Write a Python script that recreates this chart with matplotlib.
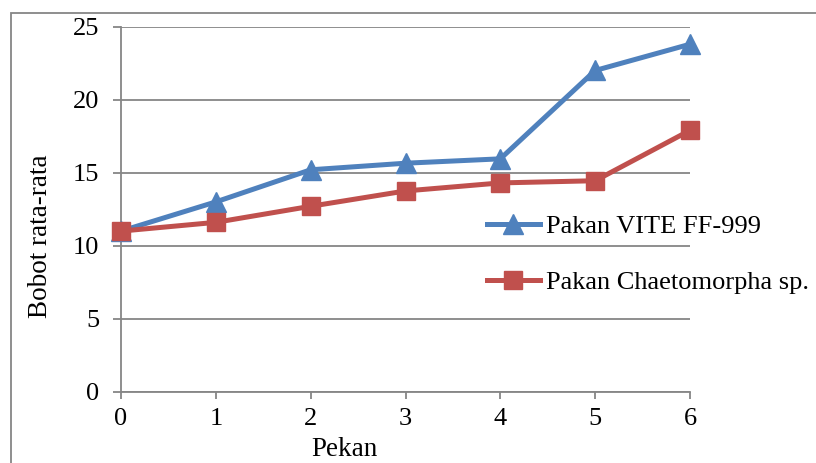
import matplotlib
matplotlib.use("Agg")
import matplotlib.pyplot as plt
from matplotlib.patches import Rectangle

plt.rcParams['font.family'] = ['Liberation Serif', 'DejaVu Serif']

pekan = [0, 1, 2, 3, 4, 5, 6]
vite = [11.0, 13.0, 15.2, 15.65, 15.95, 22.0, 23.8]
chaeto = [11.0, 11.6, 12.7, 13.75, 14.3, 14.45, 17.9]
labels = ["Pakan VITE FF-999", "Pakan Chaetomorpha sp."]

W, H = 816, 463
fig = plt.figure(figsize=(W / 100, H / 100), dpi=100)
ax = fig.add_axes([121 / W, 1 - 391.7 / H, (690 - 121) / W, (391.7 - 26.7) / H])

gray = '#868686'
fs = 19

ax.plot(pekan, vite, color='#4F81BD', lw=3.6, marker='^', ms=14,
        label=labels[0], zorder=3, clip_on=False)
ax.plot(pekan, chaeto, color='#C0504D', lw=3.6, marker='s', ms=13,
        label=labels[1], zorder=3, clip_on=False)

ax.set_xlim(0, 6)
ax.set_ylim(0, 25)
ax.set_xticks(pekan)
ax.set_yticks([0, 5, 10, 15, 20, 25])
ax.grid(axis='y', color=gray, lw=1.3)
ax.set_axisbelow(True)
for s in ['top', 'right']:
    ax.spines[s].set_visible(False)
for s in ['left', 'bottom']:
    ax.spines[s].set_color(gray)
    ax.spines[s].set_linewidth(1.3)
ax.tick_params(axis='y', length=5.8, width=1.3, color=gray, pad=10, labelsize=fs)
ax.tick_params(axis='x', length=5, width=1.3, color=gray, pad=6.5, labelsize=fs)

fig.text(41 / W, 1 - 236 / H, "Bobot rata-rata", rotation=90, fontsize=fs + 0.5,
         ha='center', va='center')
fig.text(344 / W, 1 - 450 / H, "Pekan", fontsize=fs + 0.5, ha='center', va='center')

fig.legend(loc='center left', bbox_to_anchor=(487 / W, 1 - 254.5 / H),
           frameon=False, fontsize=fs, handlelength=2.0, handletextpad=0.25,
           labelspacing=1.25, borderpad=0, borderaxespad=0)

fig.patches.append(Rectangle((10.7 / W, -0.1), 1.2, 1.1 - 12.7 / H,
                             transform=fig.transFigure, fill=False,
                             edgecolor=gray, lw=1.3))

fig.savefig("out.png", dpi=100)
